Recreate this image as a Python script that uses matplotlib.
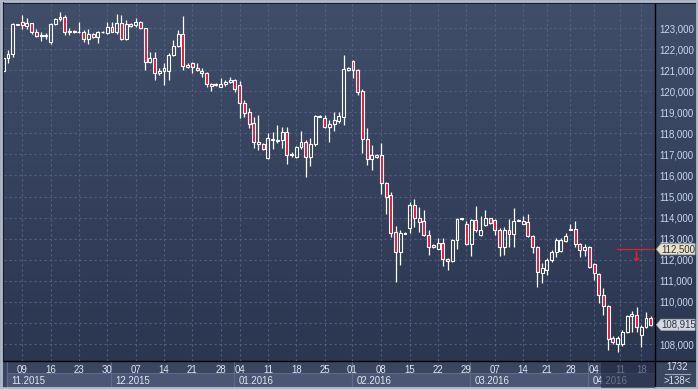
import matplotlib
matplotlib.use('Agg')
import matplotlib.pyplot as plt
import matplotlib.transforms as mtransforms
from matplotlib.patches import Rectangle, Polygon
import numpy as np

plt.rcParams['font.family'] = ['Liberation Sans', 'DejaVu Sans']

# ---------------- data (daily candles, Nov 2015 - Apr 2016) ----------------
opens = [120970, 121560, 121750, 123190, 123300, 123110, 123220, 122820, 122620, 122650,
         122350, 123175, 123430, 123510, 122820, 122870, 122800, 122820, 122460, 122700,
         122590, 122820, 122750, 123060, 122820, 123220, 122460, 123175, 123140, 123300,
         122985, 121400, 121560, 120850, 120975, 120975, 121720, 122145, 122700, 121250,
         121320, 121115, 120975, 120850, 120330, 120290, 120185, 120330, 120450, 120530,
         120295, 119425, 119010, 118490, 117495, 117495, 116830, 117735, 117685, 117685,
         118065, 116975, 116880, 117350, 117590, 116880, 117495, 118800, 118730, 118300,
         118445, 118600, 118790, 121000, 121430, 121000, 120025, 117730, 116780, 116970,
         116970, 115640, 115070, 113320, 112370, 113270, 113510, 114600, 113980, 113840,
         113180, 112700, 112510, 112800, 112040, 111950, 112940, 113980, 113700, 112750,
         113890, 113180, 113650, 113980, 113890, 113410, 112600, 113410, 113220, 113840,
         113700, 113790, 113120, 112600, 111370, 111515, 111990, 112370, 112420, 112880,
         113420, 113460, 112750, 112460, 112600, 111800, 111330, 110330, 109810, 108290,
         108000, 108000, 108570, 109330, 109380, 108430, 108810, 109240]
highs = [121600, 121960, 123250, 123200, 123620, 123460, 123250, 122940, 122820, 122750,
         123250, 123460, 123745, 123620, 122985, 122900, 123300, 122905, 122940, 122780,
         122860, 122850, 123300, 123300, 123660, 123620, 123380, 123240, 123460, 123350,
         123000, 121875, 121875, 121090, 121325, 121800, 122430, 122905, 123585, 121320,
         121400, 121320, 121090, 120930, 120375, 120370, 120610, 120530, 120660, 120580,
         120500, 119580, 119200, 118775, 118870, 117540, 118020, 118065, 118400, 118300,
         118300, 117100, 117400, 118110, 117685, 117780, 118870, 118870, 118870, 118630,
         119030, 119030, 121720, 121150, 121480, 121040, 120090, 118255, 117450, 117000,
         117540, 115690, 115220, 113600, 113410, 113300, 114740, 114885, 114500, 114360,
         113410, 112750, 113030, 113030, 112090, 113000, 113980, 114000, 113840, 113930,
         114550, 114080, 114360, 113990, 113930, 113500, 113550, 113930, 114460, 113930,
         114080, 114170, 113170, 112650, 111850, 112080, 112460, 113030, 113030, 113270,
         113700, 113840, 112800, 112750, 112650, 111850, 111370, 110660, 109850, 108380,
         108380, 108670, 109380, 109570, 109760, 108900, 109520, 109330]
lows = [120900, 121350, 121610, 123140, 122940, 122940, 122700, 122590, 122400, 122460,
        122225, 123140, 123350, 122670, 122670, 122760, 122750, 122350, 122240, 122510,
        122270, 122780, 122715, 122800, 122700, 122430, 122430, 123050, 123060, 122950,
        121000, 121320, 120530, 120770, 120295, 120530, 121670, 122110, 121000, 121100,
        120850, 120960, 120690, 120215, 120025, 120250, 120185, 120250, 120375, 119980,
        118715, 118790, 118255, 117305, 117210, 117210, 116780, 117260, 117540, 117305,
        116545, 116880, 116830, 117260, 115930, 116450, 117400, 118780, 118255, 117590,
        118110, 118475, 118400, 120970, 120640, 119820, 117070, 116500, 116260, 116850,
        115120, 114170, 113080, 110950, 111750, 113200, 113270, 113560, 113320, 113130,
        112230, 112560, 112510, 111700, 111520, 111900, 112510, 113900, 112700, 112180,
        113320, 113130, 113600, 113700, 113180, 112180, 112230, 112600, 112600, 113840,
        113700, 113080, 112320, 110710, 110900, 111280, 111900, 112130, 112370, 112840,
        113410, 112600, 112130, 112180, 111610, 111040, 109950, 109380, 107720, 108000,
        107620, 107900, 108530, 108570, 108570, 107860, 108760, 108860]
closes = [121560, 121750, 123190, 123150, 123140, 123220, 122820, 122620, 122670, 122630,
          123175, 123430, 123510, 122820, 122870, 122790, 122820, 122460, 122700, 122560,
          122820, 122800, 123060, 122820, 123220, 122460, 123175, 123110, 123300, 122985,
          121400, 121560, 120850, 120975, 121090, 121720, 122145, 122700, 121210, 121170,
          121135, 121000, 120850, 120330, 120250, 120320, 120330, 120450, 120530, 120090,
          119425, 118980, 118445, 117590, 117590, 117260, 117780, 117685, 117640, 118065,
          116975, 117020, 117350, 117590, 116880, 117495, 118825, 118830, 118300, 118445,
          118630, 118825, 121040, 121115, 121000, 119980, 117730, 116780, 116970, 116880,
          115640, 114980, 113270, 112370, 113270, 113220, 114600, 113980, 113790, 113180,
          112610, 112610, 112800, 112040, 111950, 112940, 113930, 113930, 112750, 113890,
          113410, 113420, 113980, 113750, 113410, 112600, 113410, 113220, 113840, 113890,
          113840, 113120, 112600, 111420, 111610, 111990, 112370, 112940, 112940, 113130,
          113460, 112750, 112460, 112600, 111650, 111370, 110330, 109810, 108240, 108100,
          108290, 108570, 109330, 109430, 108810, 108810, 109240, 108915]

day_tick_idx = [4, 10, 16, 22, 28, 34, 40, 46, 50, 56, 62, 68, 73.7, 80, 86, 92, 98,
                104, 110, 115, 120, 125, 130.5, 135]
day_tick_labels = ['09', '16', '23', '30', '07', '14', '21', '28', '04', '11', '18', '25',
                   '01', '08', '15', '22', '29', '07', '14', '21', '28', '04', '11', '18']
month_start_idx = [0.8, 22.8, 48.8, 73.8, 98.8, 123.8]
month_labels = ['11.2015', '12.2015', '01.2016', '02.2016', '03.2016', '04.2016']
price_ticks = list(range(108000, 124000, 1000))
alert_level = 112500
bar_count_text = '1732'
visible_text = '>138<'

# ---------------- figure ----------------
W, H = 698, 389
fig = plt.figure(figsize=(W / 100, H / 100), dpi=100)

bg = fig.add_axes([0, 0, 1, 1])
bg.set_xlim(0, W)
bg.set_ylim(H, 0)
bg.axis('off')

# gradient background of chart area
top_c = np.array([64, 78, 105]) / 255
bot_c = np.array([43, 54, 81]) / 255
g = np.linspace(0, 1, 256)[:, None, None]
img = top_c[None, None, :] * (1 - g) + bot_c[None, None, :] * g
bg.imshow(img, aspect='auto', extent=[0, W, 361, 0], zorder=0)
# bottom date band
bg.add_patch(Rectangle((0, 361), W, H - 361, facecolor='#3a4560', edgecolor='none', zorder=0.5))

RED = '#e6163c'
FS = 6.9

ax = fig.add_axes([4 / W, (H - 361) / H, 651 / W, 358 / H])
ax.patch.set_alpha(0)
ax.set_xlim(0.15, 137.9)
ax.set_ylim(107196, 124187)
for s in ax.spines.values():
    s.set_visible(False)

# the last-price tag hides the price label it sits on
last_price = closes[-1]
ylabels = ['' if abs(v - last_price) < 500 else f'{v:,}' for v in price_ticks]

ax.set_axisbelow(True)
ax.set_yticks(price_ticks)
ax.set_yticklabels(ylabels)
ax.yaxis.tick_right()
ax.set_xticks(day_tick_idx)
ax.set_xticklabels(day_tick_labels)
ax.grid(True, color='#58648a', linestyle=(0, (2, 2.5)), linewidth=0.8, alpha=0.85)
ax.tick_params(axis='y', length=0, pad=3.2, labelsize=FS, labelcolor='#c9d8ee')
ax.tick_params(axis='x', length=0, pad=3.0, labelsize=FS, labelcolor='#e2e7f0')

# candles
x = np.arange(len(opens))
o = np.array(opens, float)
c = np.array(closes, float)
hi = np.array(highs, float)
lo = np.array(lows, float)
up = c >= o
b_lo = np.minimum(o, c)
b_hi = np.maximum(o, c)
b_h = np.maximum(b_hi - b_lo, 30)
ax.vlines(x, b_hi, hi, color='white', linewidth=0.9, zorder=2)
ax.vlines(x, lo, b_lo, color='white', linewidth=0.9, zorder=2)
ax.bar(x, b_h, bottom=b_lo, width=0.62, color=['none' if u else RED for u in up],
       edgecolor='white', linewidth=0.8, zorder=3)

# alert line and arrow
ax.axhline(alert_level, xmin=(617 - 4) / 651, xmax=1, color='#e8202a', linewidth=0.9, zorder=2)
ax.text(133.9, alert_level - 380, '↓', color='#f01c28', fontsize=9.5, fontweight='bold',
        ha='center', va='center', family='DejaVu Sans', zorder=4)

# frame lines
bg.plot([655, 655], [0, H], color='black', linewidth=1.0, zorder=6)
bg.plot([0, W], [361, 361], color='black', linewidth=1.0, zorder=6)

# month boxes
blend = mtransforms.blended_transform_factory(ax.transData, bg.transData)
bounds = month_start_idx + [137.9]
for i, lab in enumerate(month_labels):
    x0, x1 = bounds[i], bounds[i + 1]
    bg.add_patch(Rectangle((x0, 373), x1 - x0, 14, transform=blend,
                           facecolor='#4a5673', edgecolor='#5e6a88', linewidth=0.8, zorder=1))
    bg.plot([x0, x0], [362, 387], transform=blend, color='#5e6a88', linewidth=0.8, zorder=1.2)
    bg.text(x0, 380.5, lab, transform=mtransforms.offset_copy(blend, fig=fig, x=4.5, y=0, units='dots'),
            ha='left', va='center', fontsize=FS, color='#e2e7f0', zorder=2)

# dim scroll region
ax.add_patch(Rectangle((126.5, 361.5), 137.9 - 126.5, 26, transform=blend,
                       facecolor='#1d2640', edgecolor='none', alpha=0.6, zorder=5, clip_on=False))

# bottom-right box
bg.text(677, 366.5, bar_count_text, ha='center', va='center', fontsize=FS, color='#dde4f0', zorder=7)
bg.text(677, 380.5, visible_text, ha='center', va='center', fontsize=FS, color='#dde4f0', zorder=7)
bg.plot([665, 690], [373.5, 373.5], color='#9aa6bc', linewidth=0.8, zorder=7)

# price tags
tag_t = mtransforms.blended_transform_factory(bg.transData, ax.transData)
half = 5.5 * 47.46
for val, fc in [(alert_level, '#e9e2c4'), (last_price, '#d5d9e1')]:
    poly = Polygon([(656.5, val), (661, val + half), (695, val + half), (695, val - half),
                    (661, val - half)], closed=True, transform=tag_t, facecolor=fc,
                   edgecolor='#b0b4bc', linewidth=0.6, zorder=8, clip_on=False)
    ax.add_patch(poly)
    ax.text(678.5, val, f'{val:,}', transform=tag_t, ha='center', va='center',
            fontsize=FS, color='#2a3140', zorder=9, clip_on=False)

# outer border
bg.plot([0, W], [1, 1], color='#b3bccc', linewidth=2.0, zorder=10)
bg.plot([0, W], [2.6, 2.6], color='#1a2030', linewidth=0.8, zorder=10)
bg.plot([1, 1], [0, H], color='#b3bccc', linewidth=2.0, zorder=10)
bg.plot([2.6, 2.6], [2, 361], color='#1a2030', linewidth=0.8, zorder=10)
bg.plot([0, W], [388, 388], color='#b3bccc', linewidth=2.0, zorder=10)
bg.plot([697, 697], [0, H], color='#b3bccc', linewidth=2.0, zorder=10)

fig.savefig('out.png', dpi=100)
